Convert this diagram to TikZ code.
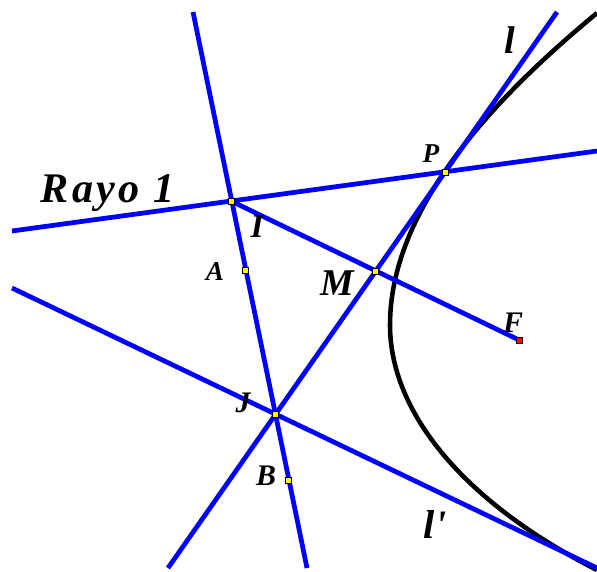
\documentclass[tikz,border=0pt]{standalone}
\usepackage{fontspec}
\setmainfont{Liberation Serif}

\begin{document}
\begin{tikzpicture}[
        x=0.02cm, y=-0.02cm,
        ray/.style={draw=blue, line width=2.7pt},
        conic/.style={draw=black, line width=2.6pt, line join=round},
        pt/.style={draw=black, fill=yellow, line width=0.4pt, inner sep=0pt,
            minimum size=1.2mm},
        lbl/.style={font=\fontsize{#1}{#1}\selectfont\bfseries\itshape,
            inner sep=0pt, anchor=base},
        lbl/.default=17pt
    ]
    \useasboundingbox (0,0) rectangle (597,571);
    % points
    \coordinate (I) at (231,201);
    \coordinate (A) at (245.7,270.7);
    \coordinate (J) at (275.5,414.5);
    \coordinate (B) at (288,480);
    \coordinate (M) at (375.3,271);
    \coordinate (P) at (445,172);
    \coordinate (F) at (519,340);
    % ends of the lines
    \coordinate (v1) at (193,12);
    \coordinate (v2) at (307,568);
    \coordinate (r1) at (12,231);
    \coordinate (r2) at (597,151);
    \coordinate (l1) at (168,568);
    \coordinate (l2) at (557,12);
    \coordinate (m1) at (12,288);
    \coordinate (m2) at (597,568);
    \coordinate (c1) at (597,13);
    \coordinate (c0) at (390,325);
    \coordinate (c2) at (597,570);
    % the curve
    \draw[conic] (c1) .. controls (510,85) and (390,200) .. (c0)
        .. controls (390,410) and (460,500) .. (c2);
    % lines
    \draw[ray] (v1) -- (v2);
    \draw[ray] (r1) -- (r2);
    \draw[ray] (I) -- (F);
    \draw[ray] (l1) -- (l2);
    \draw[ray] (m1) -- (m2);
    % marks
    \node[pt] (pI) at (I) {};
    \node[pt] (pA) at (A) {};
    \node[pt] (pJ) at (J) {};
    \node[pt] (pB) at (B) {};
    \node[pt] (pM) at (M) {};
    \node[pt] (pP) at (P) {};
    \node[pt, fill=red] (pF) at (F) {};
    % labels
    \node[lbl=24pt] (tRayo) at (108,202) {\addfontfeature{LetterSpace=8}Rayo 1};
    \node[lbl=19pt] (tI) at (257,237) {I};
    \node[lbl=15.5pt] (tA) at (215,280) {A};
    \node[lbl] (tJ) at (243,412) {J};
    \node[lbl] (tB) at (266,485) {B};
    \node[lbl=15.5pt] (tP) at (431,162) {P};
    \node[lbl=21.5pt] (tM) at (337,295) {M};
    \node[lbl] (tF) at (513,332) {F};
    \node[lbl=22pt] (tl) at (510,53) {l};
    \node[lbl=23pt] (tll) at (435,538) {l\textquotesingle};
\end{tikzpicture}
\end{document}
